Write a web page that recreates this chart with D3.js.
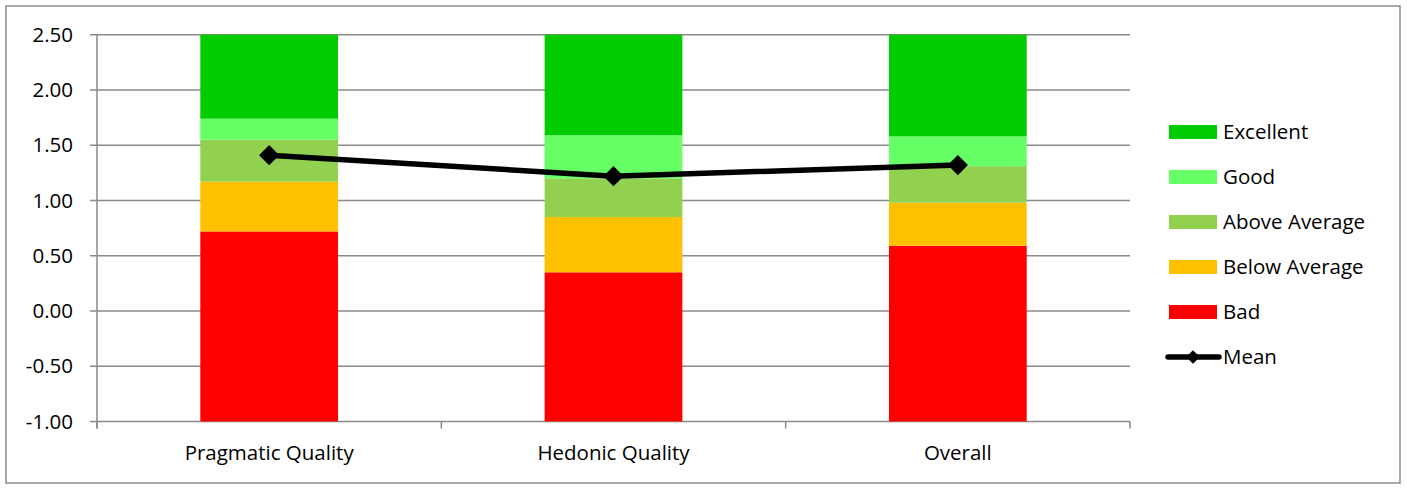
<!DOCTYPE html>
<html lang="en">
<head>
<meta charset="utf-8">
<title>UEQ benchmark</title>
<script src="https://d3js.org/d3.v7.min.js"></script>
<style>
body { margin:0; background:#fff; }
svg text { font-family: "Open Sans", sans-serif; fill:#000; }
.grid line { stroke:#8a8a8a; stroke-width:1.5; }
</style>
</head>
<body>
<div id="chart"></div>
<script>
var categories = ["Pragmatic Quality", "Hedonic Quality", "Overall"];
// upper bound of each benchmark band, per category
var badTop   = [0.72, 0.35, 0.59];
var belowTop = [1.17, 0.85, 0.98];
var aboveTop = [1.55, 1.20, 1.31];
var goodTop  = [1.74, 1.59, 1.58];
var excTop   = [2.50, 2.50, 2.50];
var means    = [1.41, 1.22, 1.32];
var yTicks   = [-1, -0.5, 0, 0.5, 1, 1.5, 2, 2.5];

var bands = [
  {name:"Bad", top:badTop, color:"#ff0000"},
  {name:"Below Average", top:belowTop, color:"#ffc000"},
  {name:"Above Average", top:aboveTop, color:"#92d050"},
  {name:"Good", top:goodTop, color:"#66ff66"},
  {name:"Excellent", top:excTop, color:"#00cc00"}
];

var W = 1407, H = 491, fs = "20.5px";
var svg = d3.select("#chart").append("svg").attr("width", W).attr("height", H);

// outer frame
svg.append("rect").attr("x",6).attr("y",6).attr("width",1394).attr("height",477)
  .attr("fill","none").attr("stroke","#8c8c8c").attr("stroke-width",1.5);

var x = d3.scaleBand().domain(categories).range([97,1130]).paddingInner(0.6).paddingOuter(0.3);
var y = d3.scaleLinear().domain([-1,2.5]).range([421.5,34.7]);

// gridlines + tick marks
var g = svg.append("g").attr("class","grid");
g.selectAll("line").data(yTicks).enter().append("line")
  .attr("x1",90).attr("x2",1130)
  .attr("y1",function(d){ return y(d); }).attr("y2",function(d){ return y(d); });

svg.append("line").attr("x1",97).attr("x2",97).attr("y1",y(2.5)).attr("y2",y(-1)+7)
  .attr("stroke","#8a8a8a").attr("stroke-width",1.5);

svg.selectAll(".ylab").data(yTicks).enter().append("text").attr("class","ylab")
  .attr("x",73).attr("y",function(d){ return y(d); }).attr("dy","0.35em")
  .attr("text-anchor","end").style("font-size",fs)
  .text(function(d){ return d.toFixed(2); });

// stacked benchmark bars
bands.forEach(function(b, bi){
  svg.selectAll(".bar"+bi).data(categories).enter().append("rect")
    .attr("x",function(d){ return x(d); })
    .attr("width",x.bandwidth())
    .attr("y",function(d,i){ return y(b.top[i]); })
    .attr("height",function(d,i){
      var lo = bi==0 ? -1 : bands[bi-1].top[i];
      return y(lo) - y(b.top[i]);
    })
    .attr("fill",b.color);
});

// category ticks on x axis
var xTicks = [97].concat(categories.map(function(d){ return x(d) + x.bandwidth() + x.step()*0.3; }));
svg.selectAll(".xt").data(xTicks).enter().append("line")
  .attr("x1",function(d){ return d; }).attr("x2",function(d){ return d; })
  .attr("y1",y(-1)).attr("y2",y(-1)+7)
  .attr("stroke","#8a8a8a").attr("stroke-width",1.5);

svg.selectAll(".xlab").data(categories).enter().append("text")
  .attr("x",function(d){ return x(d) + x.bandwidth()/2; }).attr("y",453).attr("dy","0.35em")
  .attr("text-anchor","middle").style("font-size",fs)
  .text(function(d){ return d; });

// mean line
var line = d3.line().x(function(d,i){ return x(categories[i]) + x.bandwidth()/2; }).y(function(d){ return y(d); });
svg.append("path").datum(means).attr("d",line).attr("fill","none")
  .attr("stroke","#000").attr("stroke-width",5.5).attr("stroke-linejoin","round");
var diamond = d3.symbol().type(d3.symbolDiamond2).size(260);
svg.selectAll(".mk").data(means).enter().append("path")
  .attr("transform",function(d,i){ return "translate(" + (x(categories[i]) + x.bandwidth()/2) + "," + y(d) + ")"; })
  .attr("d",diamond).attr("fill","#000");

// legend
var legend = bands.slice().reverse();
legend.forEach(function(b, i){
  var cy = 132 + i*45;
  svg.append("rect").attr("x",1169).attr("y",cy-7).attr("width",48).attr("height",14).attr("fill",b.color);
  svg.append("text").attr("x",1223).attr("y",cy).attr("dy","0.35em").style("font-size",fs).text(b.name);
});
var my = 132 + 5*45;
svg.append("line").attr("x1",1168).attr("x2",1219).attr("y1",my).attr("y2",my)
  .attr("stroke","#000").attr("stroke-width",5.5).attr("stroke-linecap","round");
svg.append("path").attr("transform","translate(1193," + my + ")")
  .attr("d",d3.symbol().type(d3.symbolDiamond2).size(120)).attr("fill","#000");
svg.append("text").attr("x",1223).attr("y",my).attr("dy","0.35em").style("font-size",fs).text("Mean");
</script>
</body>
</html>
